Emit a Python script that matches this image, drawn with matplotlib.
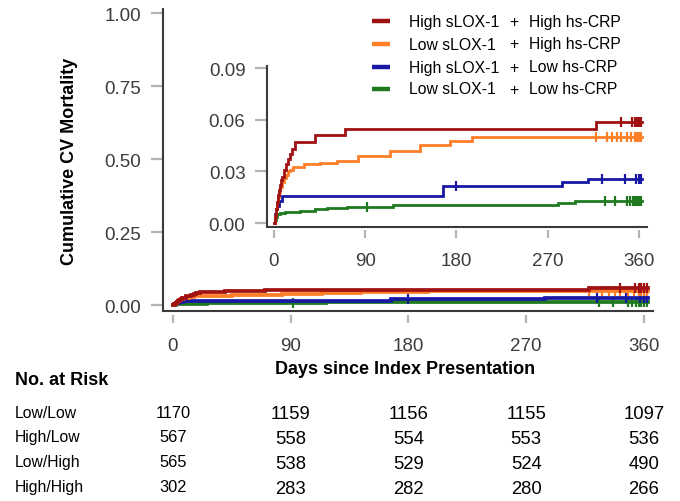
import numpy as np
import matplotlib
matplotlib.use("Agg")
import matplotlib.pyplot as plt
import matplotlib.transforms as mtransforms
from matplotlib.lines import Line2D

plt.rcParams['font.family'] = ['Liberation Sans', 'DejaVu Sans']

# Kaplan-Meier style cumulative mortality, one step curve per group
hh_days = [0, 1, 2, 3, 4, 5, 6, 7, 8, 10, 12, 14, 16, 18, 21, 40, 70, 318, 363]
hh_cum = [0, .004, .008, .012, .016, .019, .022, .025, .027, .031, .034, .037,
          .040, .043, .047, .051, .0546, .0587, .0587]
hh_censor = [342, 353, 356, 358, 360, 362]

lh_days = [0, 1, 2, 3, 4, 5, 6, 8, 10, 12, 14, 16, 19, 30, 45, 62, 83, 114,
           144, 174, 195, 363]
lh_cum = [0, .004, .008, .012, .015, .018, .021, .024, .026, .028, .030, .031,
          .0325, .034, .035, .036, .039, .042, .0455, .0475, .050, .050]
lh_censor = [318, 328, 333, 338, 342, 348, 352, 356, 358, 360, 362]

hl_days = [0, 1, 2, 3, 5, 8, 167, 284, 310, 363]
hl_cum = [0, .005, .008, .010, .013, .0159, .0217, .0238, .0256, .0256]
hl_censor = [180, 324, 346, 357, 360, 362]

ll_days = [0, 1, 2, 3, 6, 11, 26, 40, 52, 72, 117, 280, 297, 363]
ll_cum = [0, .002, .0035, .005, .0058, .0064, .007, .008, .0087, .0093, .0104,
          .0116, .0128, .0128]
ll_censor = [92, 326, 336, 348, 351, 354, 356, 358, 360, 362]

sLOX_labels = ["High sLOX-1", "Low sLOX-1", "High sLOX-1", "Low sLOX-1"]
crp_labels = ["High hs-CRP", "High hs-CRP", "Low hs-CRP", "Low hs-CRP"]
colors = ["#a01212", "#ff7f27", "#1818a4", "#1f7a1f"]

# Numbers at risk
risk_days = [0, 90, 180, 270, 360]
risk_rows = ["Low/Low", "High/Low", "Low/High", "High/High"]
at_risk_ll = [1170, 1159, 1156, 1155, 1097]
at_risk_hl = [567, 558, 554, 553, 536]
at_risk_lh = [565, 538, 529, 524, 490]
at_risk_hh = [302, 283, 282, 280, 266]

x_ticks = [0, 90, 180, 270, 360]
main_y_ticks = [0.0, 0.25, 0.50, 0.75, 1.00]
inset_y_ticks = [0.0, 0.03, 0.06, 0.09]

series = [
    (hh_days, hh_cum, hh_censor),
    (lh_days, lh_cum, lh_censor),
    (hl_days, hl_cum, hl_censor),
    (ll_days, ll_cum, ll_censor),
]

W, H = 680, 502
fig = plt.figure(figsize=(W / 100, H / 100), dpi=100)
fig.patch.set_facecolor("white")

AXIS_COL = "#3a3a3a"
TICK_COL = "#b4b4b4"
LABEL_COL = "#3c3c3c"


def px_axes(l, t, r, b):
    return fig.add_axes([l / W, 1 - b / H, (r - l) / W, (b - t) / H])


def style_axes(ax, xgap, xpad, ypad):
    for s in ax.spines.values():
        s.set_visible(False)
    ax.spines["bottom"].set_position(("outward", xgap))
    ax.plot([0, 0, 1], [1, 0, 0], transform=ax.transAxes, clip_on=False,
            color=AXIS_COL, lw=1.5, solid_joinstyle="miter", zorder=5)
    ax.tick_params(axis="x", direction="out", length=6, width=1.6,
                   color=TICK_COL, labelcolor=LABEL_COL, labelsize=13.5, pad=xpad)
    ax.tick_params(axis="y", direction="out", length=8.5, width=1.6,
                   color=TICK_COL, labelcolor=LABEL_COL, labelsize=13.5, pad=ypad)
    ax.set_xticks(x_ticks)
    ax.set_xticklabels([str(v) for v in x_ticks])


def draw_curves(ax, lw, ms):
    for (d, c, cens), col in zip(reversed(series), reversed(colors)):
        d = np.asarray(d, float)
        c = np.asarray(c, float)
        ax.step(d, c, where="post", color=col, lw=lw, solid_joinstyle="miter")
        cens = np.asarray(cens, float)
        idx = np.searchsorted(d, cens, side="right") - 1
        ax.plot(cens, c[idx], linestyle="none", marker="|", color=col,
                markersize=ms, markeredgewidth=1.6)


# Main panel
ax = px_axes(163, 10, 653, 312)
ax.set_xlim(-7.6, 366.9)
ax.set_ylim(-0.019, 1.015)
style_axes(ax, xgap=3, xpad=10, ypad=7)
ax.set_yticks(main_y_ticks)
ax.set_yticklabels([f"{v:.2f}" for v in main_y_ticks])
draw_curves(ax, lw=2.7, ms=7)

# Inset zoom on the low range
ins = px_axes(267, 67, 647, 228)
ins.set_facecolor("white")
ins.set_xlim(-6.9, 367.9)
ins.set_ylim(-0.0023, 0.0912)
style_axes(ins, xgap=2, xpad=10, ypad=7)
ins.set_yticks(inset_y_ticks)
ins.set_yticklabels([f"{v:.2f}" for v in inset_y_ticks])
draw_curves(ins, lw=2.0, ms=7)

# Axis titles
fig.text(70 / W, 1 - 161 / H, "Cumulative CV Mortality", rotation=90,
         ha="center", va="center", fontsize=13, fontweight="bold")
fig.text(405 / W, 1 - 370 / H, "Days since Index Presentation",
         ha="center", va="center", fontsize=13, fontweight="bold")

# Legend
leg_rows = [22, 45, 68, 90]
for y, s1, s2, col in zip(leg_rows, sLOX_labels, crp_labels, colors):
    fy = 1 - y / H
    fig.add_artist(Line2D([372 / W, 390 / W], [fy, fy], color=col, lw=3.2,
                          solid_capstyle="butt"))
    fig.text(409 / W, fy, s1, ha="left", va="center", fontsize=11.3)
    fig.text(514 / W, fy, "+", ha="center", va="center", fontsize=11.3)
    fig.text(529 / W, fy, s2, ha="left", va="center", fontsize=11.3)

# Number-at-risk table, columns aligned to the main time axis
fig.text(15 / W, 1 - 381 / H, "No. at Risk", ha="left", va="center",
         fontsize=13, fontweight="bold")
row_y = [413, 438, 463, 488]
tbl = mtransforms.blended_transform_factory(ax.transData, fig.transFigure)
for y, name, vals in zip(row_y, risk_rows,
                         [at_risk_ll, at_risk_hl, at_risk_lh, at_risk_hh]):
    fy = 1 - y / H
    fig.text(15 / W, fy, name, ha="left", va="center", fontsize=11.3)
    for day, v in zip(risk_days, vals):
        fs = 11.8 if day == 0 else 13.3
        yy = fy if day == 0 else 1 - (y + 1.5) / H
        ax.text(day, yy, str(v), transform=tbl, ha="center", va="center",
                fontsize=fs, clip_on=False)

fig.savefig("out.png", dpi=100, facecolor="white")
